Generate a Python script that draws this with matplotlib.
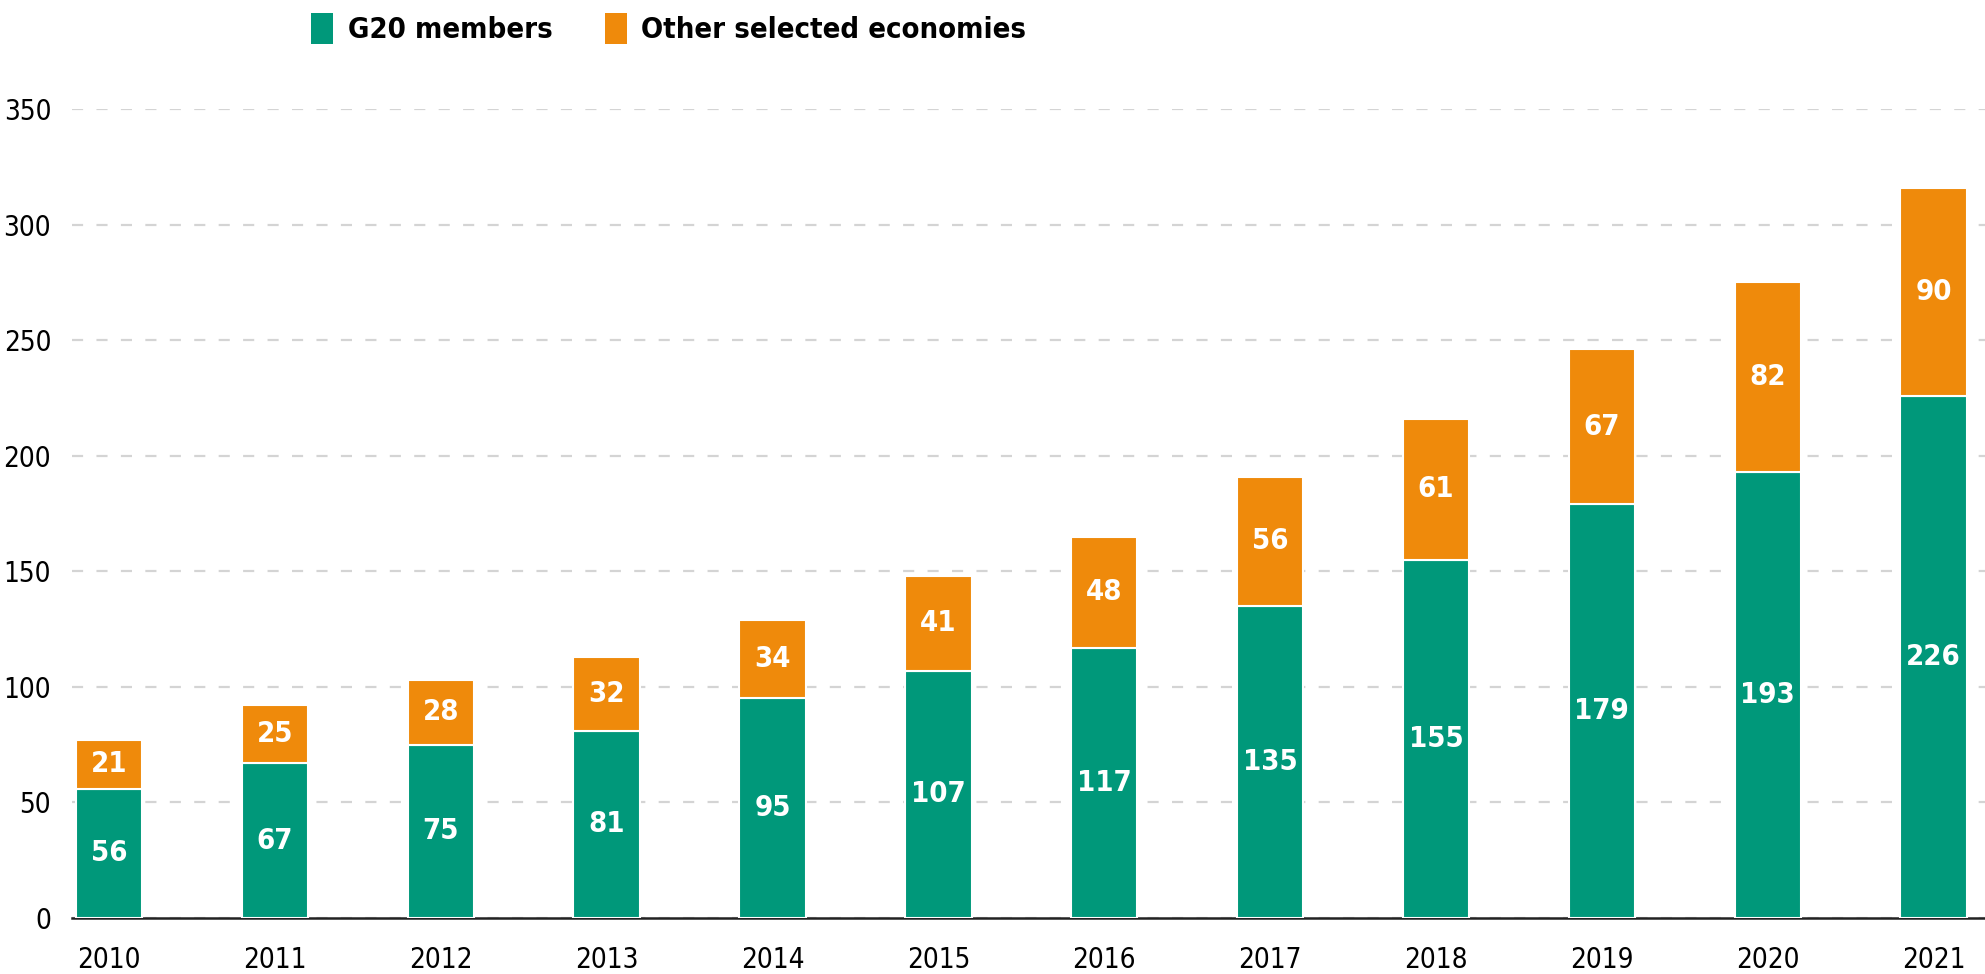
import numpy as np
import matplotlib
matplotlib.use('Agg')
import matplotlib.pyplot as plt
from matplotlib.patches import Patch

# Dados
anos = ['2010', '2011', '2012', '2013', '2014', '2015',
        '2016', '2017', '2018', '2019', '2020', '2021']
g20 = [56, 67, 75, 81, 95, 107, 117, 135, 155, 179, 193, 226]
outros = [21, 25, 28, 32, 34, 41, 48, 56, 61, 67, 82, 90]
y_ticks = [0, 50, 100, 150, 200, 250, 300, 350]

verde = '#00987A'
laranja = '#EF8A0B'

plt.rcParams['font.family'] = ['DejaVu Sans']
plt.rcParams['font.stretch'] = 'condensed'

fig = plt.figure(figsize=(19.85, 9.74), dpi=100)
ax = fig.add_axes([0.0363, 0.0575, 0.9637, 0.8306])

x = np.arange(len(anos))
largura = 0.40

ax.bar(x, g20, largura, color=verde, edgecolor='white', linewidth=1.5, zorder=3)
ax.bar(x, outros, largura, bottom=g20, color=laranja, edgecolor='white', linewidth=1.5, zorder=3)

# Rótulos dentro das barras
for xi, g, o in zip(x, g20, outros):
    ax.text(xi, g / 2, str(g), ha='center', va='center', color='white',
            fontsize=21, fontweight='bold', zorder=4)
    ax.text(xi, g + o / 2, str(o), ha='center', va='center', color='white',
            fontsize=21, fontweight='bold', zorder=4)

ax.set_xlim(-0.223, 11.31)
ax.set_ylim(0, 350)
ax.set_yticks(y_ticks)
ax.set_xticks(x)
ax.set_xticklabels(anos)
ax.tick_params(axis='y', length=0, pad=15, labelsize=20)
ax.tick_params(axis='x', length=0, pad=20, labelsize=20)

for s in ['top', 'right', 'left']:
    ax.spines[s].set_visible(False)
ax.spines['bottom'].set_linewidth(1.8)
ax.spines['bottom'].set_color('#222222')

ax.yaxis.grid(True, color='#d4d4d4', linestyle=(0, (5, 6)), linewidth=1.6, zorder=0)
ax.set_axisbelow(True)

handles = [Patch(facecolor=verde, label='G20 members'),
           Patch(facecolor=laranja, label='Other selected economies')]
fig.legend(handles=handles, loc='upper left', bbox_to_anchor=(0.1436, 1.0135), ncol=2,
           frameon=False, prop={'size': 21, 'weight': 'bold', 'stretch': 'condensed'},
           handlelength=0.75, handleheight=1.25, handletextpad=0.5, columnspacing=1.8)

fig.savefig('out.png', dpi=100)
